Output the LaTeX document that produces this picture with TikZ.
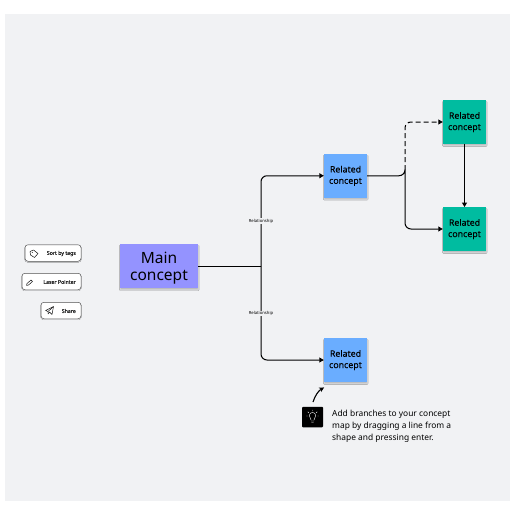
\documentclass[tikz,border=0pt]{standalone}
\usepackage{fontspec}
\setmainfont{Noto Sans}
\newfontfamily\medfont[FakeBold=0.25]{Noto Sans}
\newfontfamily\btnfont[FakeBold=0.7]{Noto Sans}
\usetikzlibrary{arrows.meta,shadows.blur,calc}
\definecolor{bgc}{HTML}{F1F2F4}
\definecolor{mainc}{HTML}{9493FF}
\definecolor{bluec}{HTML}{6AADFF}
\definecolor{greenc}{HTML}{00BCA0}
\tikzset{
  sticky/.style={inner sep=0pt,align=center,text=black,font=\medfont\fontsize{8.8}{11.8}\selectfont,
     blur shadow={shadow xshift=0.3pt,shadow yshift=-1.8pt,shadow blur steps=5,shadow blur radius=.8pt,shadow opacity=22}},
  bluenote/.style={sticky,fill=bluec,minimum width=43pt,minimum height=43.5pt},
  greennote/.style={sticky,fill=greenc,minimum width=43pt,minimum height=43.5pt},
  mainnote/.style={sticky,fill=mainc,minimum width=78pt,minimum height=44pt,font=\fontsize{15.5}{18.5}\selectfont},
  link/.style={line width=1pt,black,rounded corners=6pt,-{Triangle[length=4.5pt,width=5pt]}},
  dash link/.style={link,dash pattern=on 5pt off 3pt},
  rel/.style={font=\fontsize{4.2}{5}\selectfont,fill=bgc,inner sep=0.6pt},
  btn/.style={draw=black!65,line width=.5pt,fill=white,rounded corners=3pt,minimum height=16.5pt,inner sep=0pt,
     blur shadow={shadow xshift=0pt,shadow yshift=-.7pt,shadow blur steps=3,shadow blur radius=.5pt,shadow opacity=20}},
  btnlabel/.style={font=\btnfont\fontsize{5.2}{6}\selectfont,anchor=east,inner sep=0pt,text=black!85},
  ico/.style={line width=.45pt,black,line join=round},
  tip/.style={font=\fontsize{8.4}{12}\selectfont,align=left,anchor=north west,inner sep=0pt,text=black},
}
\begin{document}
\begin{tikzpicture}[x=1pt,y=-1pt]
\useasboundingbox (0,0) rectangle (516,516);
\fill[bgc] (5,14) rectangle (510,501);
% notes
\node[mainnote] (main) at (159,266) {\raisebox{-2.5pt}[\height][\depth]{\begin{tabular}{@{}c@{}}Main\\[-1.5pt]concept\end{tabular}}};
\node[bluenote] (r1) at (345.5,175.75) {\raisebox{-1pt}{\begin{tabular}{@{}c@{}}Related\\[-.5pt]concept\end{tabular}}};
\node[bluenote] (r3) at (345.5,360) {\raisebox{-1pt}{\begin{tabular}{@{}c@{}}Related\\[-.5pt]concept\end{tabular}}};
\node[greennote] (g1) at (464.5,122) {\raisebox{-1pt}{\begin{tabular}{@{}c@{}}Related\\[-.5pt]concept\end{tabular}}};
\node[greennote] (g2) at (464.5,229) {\raisebox{-1pt}{\begin{tabular}{@{}c@{}}Related\\[-.5pt]concept\end{tabular}}};
% branching points
\coordinate (trunk) at (261,266);
\coordinate (fork) at (405,175.75);
\coordinate (forkup) at (405,170);
% connectors
\draw[line width=1pt] (main.east) -- (trunk);
\draw[link] (trunk) |- (r1.west);
\draw[link] (trunk) |- (r3.west);
\draw[dash link] (forkup) |- (g1.west);
\draw[link] (r1.east) -| (fork) |- (g2.west);
\draw[link] (g1.south) -- (g2.north);
% labels
\node[rel] (la) at (261,221) {Relationship};
\node[rel] (lb) at (261,313.5) {Relationship};
% buttons
\node[btn,minimum width=56pt] (b1) at (53,253) {};
\node[btn,minimum width=59pt] (b2) at (51.5,281.5) {};
\node[btn,minimum width=40pt] (b3) at (61,310.5) {};
\node[btnlabel] (t1) at (76,253.5) {Sort by tags};
\node[btnlabel] (t2) at (76,282) {Laser Pointer};
\node[btnlabel] (t3) at (76,311) {Share};
% tag icon
\draw[ico] (30,251.5) -- (33.5,250) -- (38,253.5) -- (34.5,257.5) -- (30.5,255) -- cycle;
\fill (32.3,252.3) circle (.5pt);
% pencil icon
\draw[ico] (26.5,285.5) -- (27,283.5) -- (31,280) -- (32.5,281.5) -- (28.5,285) -- cycle;
% plane icon
\draw[ico] (45.5,310.5) -- (53.5,306.5) -- (52,314.5) -- (49.5,312) -- (48,314) -- (48,311.5) -- cycle;
\draw[ico] (48,311.5) -- (53.5,306.5);
% tip
\node[fill=black,rounded corners=1pt,minimum width=21pt,minimum height=20.5pt,inner sep=0pt] (bulb) at (312.5,417) {};
\draw[white,line width=.4pt] (311,421) -- (314,421) (311.3,422.5) -- (313.7,422.5)
   (311,420) .. controls (311,417.5) and (309.3,417.5) .. (309.3,415.5)
   .. controls (309.3,411.5) and (315.7,411.5) .. (315.7,415.5)
   .. controls (315.7,417.5) and (314,417.5) .. (314,420)
   (312.5,409.8) -- (312.5,411) (307.8,411.8) -- (308.7,412.7) (317.2,411.8) -- (316.3,412.7) (306.3,416) -- (307.5,416) (318.7,416) -- (317.5,416);
\coordinate (tipstart) at (313,402);
\draw[line width=1.1pt,black,-{Stealth[length=5pt,width=5pt]}] (tipstart) .. controls (315,396) and (318,391) .. ($(r3.south west)+(0.3,5.5)$);
\node[tip] (tiptext) at (332,409.5) {Add branches to your concept\\map by dragging a line from a\\shape and pressing enter.};
\end{tikzpicture}
\end{document}
